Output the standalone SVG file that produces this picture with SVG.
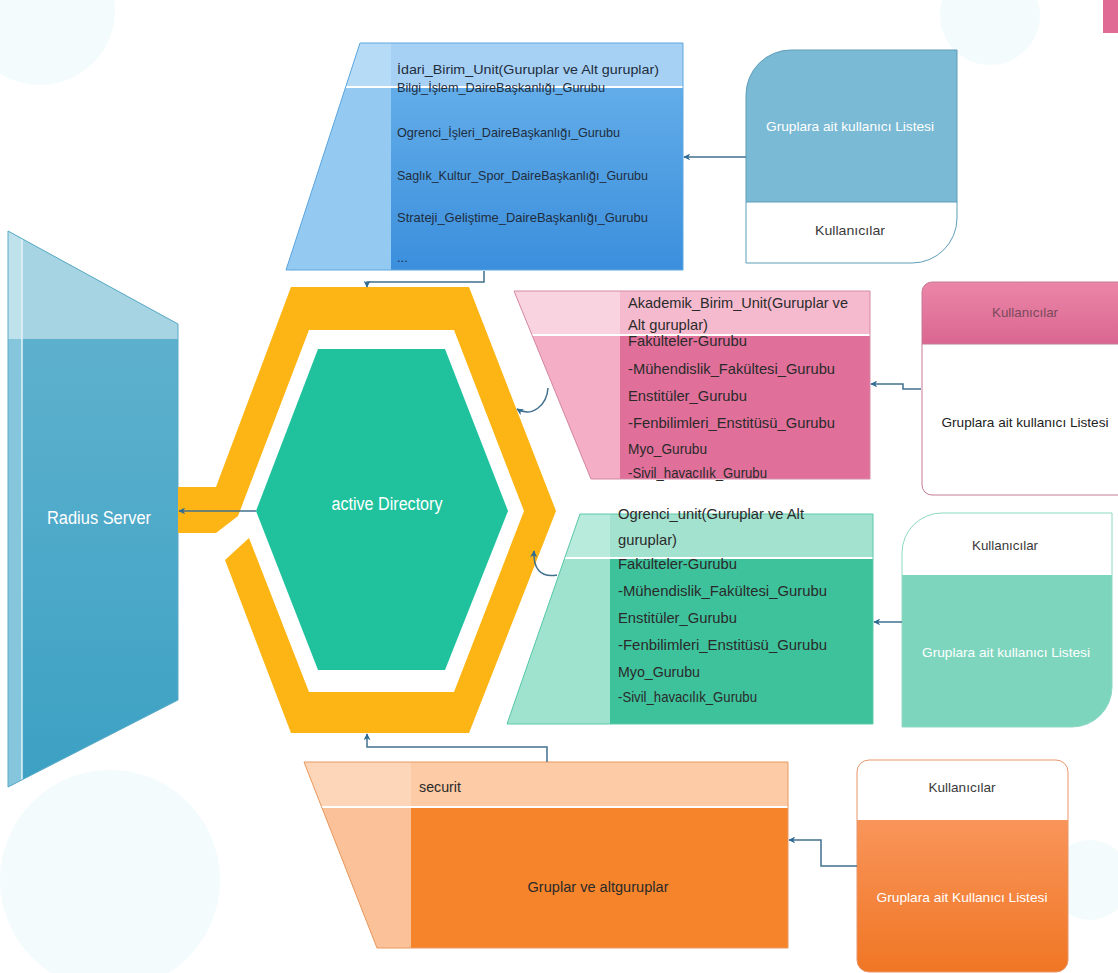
<svg xmlns="http://www.w3.org/2000/svg" width="1118" height="973" viewBox="0 0 1118 973">
<style>
text{font-family:"Liberation Sans",Arial,sans-serif}
.bt{font-size:13px;fill:#1f2d3d}
.lt{font-size:15px;fill:#2a2a2a}
.ku{font-size:13px;fill:#3a3a3a;text-anchor:middle}
.gw{font-size:13px;fill:#ffffff;text-anchor:middle}
.conn{fill:none;stroke:#41708F;stroke-width:1.5}
</style>
<defs>
<marker id="ah" viewBox="0 0 10 10" refX="9" refY="5" markerWidth="7" markerHeight="7" orient="auto-start-reverse" markerUnits="userSpaceOnUse">
<path d="M0,0 L10,5 L0,10 L3,5 Z" fill="#2F6B93"/>
</marker>
<linearGradient id="gBlue" x1="0" y1="0" x2="0" y2="1"><stop offset="0" stop-color="#6CB4EC"/><stop offset="1" stop-color="#3A8EDC"/></linearGradient>
<linearGradient id="gRad" x1="0" y1="0" x2="0" y2="1"><stop offset="0" stop-color="#66B5D0"/><stop offset="1" stop-color="#3BA0C3"/></linearGradient>
<linearGradient id="gPinkH" x1="0" y1="0" x2="0" y2="1"><stop offset="0" stop-color="#EB86A8"/><stop offset="1" stop-color="#DA6690"/></linearGradient>
<linearGradient id="gOr" x1="0" y1="0" x2="0" y2="1"><stop offset="0" stop-color="#F9955A"/><stop offset="1" stop-color="#F07624"/></linearGradient>
<clipPath id="cRad"><polygon points="8,231 178,324 178,700 8,787"/></clipPath>
<clipPath id="cBlue"><polygon points="360,43 683,43 683,270 286,270"/></clipPath>
<clipPath id="cPink"><polygon points="514,291 870,291 870,479 591,479"/></clipPath>
<clipPath id="cGreen"><polygon points="580,514 873,514 873,724 507,724"/></clipPath>
<clipPath id="cOr"><polygon points="304,762 788,762 788,948 377,948"/></clipPath>
</defs>

<g id="background" fill="#EAF8FC" opacity="0.55">
<circle cx="40" cy="10" r="75"/>
<circle cx="990" cy="15" r="50"/>
<circle cx="1090" cy="880" r="40"/>
<circle cx="110" cy="880" r="110"/>
</g>
<rect id="corner-tab" x="1103" y="0" width="15" height="33" fill="#E06C96"/>

<g id="radius-server">
<g clip-path="url(#cRad)">
<rect x="0" y="220" width="190" height="580" fill="url(#gRad)"/>
<rect x="0" y="220" width="190" height="119" fill="#A6D4E3"/>
<rect x="8" y="339" width="14" height="460" fill="#86C6DC"/>
<rect x="8" y="220" width="14" height="119" fill="#BFE1EC"/>
<line x1="22" y1="220" x2="22" y2="800" stroke="#E3F3F8" stroke-width="1.5"/>
</g>
<polygon points="8,231 178,324 178,700 8,787" fill="none" stroke="#5AAAC6" stroke-width="1"/>
<text x="99" y="524" font-size="18" fill="#ffffff" text-anchor="middle" textLength="104" lengthAdjust="spacingAndGlyphs">Radius Server</text>
</g>

<g id="ring">
<polygon points="178,487 216,487 291,287 469,287 556,511 469,733 291,733 225,560 249,538 309,692 454,692 524,511 454,330 309,330 238,516 216,533 178,533" fill="#FDB515"/>
</g>

<g id="active-directory">
<polygon points="318,349 445,349 508,511 445,670 318,670 256,511" fill="#20C29E"/>
<text x="387" y="510" font-size="18" fill="#ffffff" text-anchor="middle" textLength="111" lengthAdjust="spacingAndGlyphs">active Directory</text>
</g>

<g id="idari-birim">
<g clip-path="url(#cBlue)">
<rect x="280" y="40" width="410" height="235" fill="url(#gBlue)"/>
<rect x="280" y="40" width="410" height="47" fill="#A6D1F4"/>
<rect x="280" y="87" width="111" height="190" fill="#94CAF1"/>
<rect x="280" y="40" width="111" height="47" fill="#B6DBF7"/>
<line x1="280" y1="87" x2="690" y2="87" stroke="#FFFFFF" stroke-width="2"/>
</g>
<polygon points="360,43 683,43 683,270 286,270" fill="none" stroke="#5FA8E0" stroke-width="1"/>
<text class="bt" x="397" y="74" textLength="262" lengthAdjust="spacingAndGlyphs">İdari_Birim_Unit(Guruplar ve Alt guruplar)</text>
<text class="bt" x="397" y="92" textLength="208" lengthAdjust="spacingAndGlyphs">Bilgi_İşlem_DaireBaşkanlığı_Gurubu</text>
<text class="bt" x="397" y="137" textLength="223" lengthAdjust="spacingAndGlyphs">Ogrenci_İşleri_DaireBaşkanlığı_Gurubu</text>
<text class="bt" x="397" y="180" textLength="251" lengthAdjust="spacingAndGlyphs">Saglık_Kultur_Spor_DaireBaşkanlığı_Gurubu</text>
<text class="bt" x="397" y="222" textLength="251" lengthAdjust="spacingAndGlyphs">Strateji_Geliştime_DaireBaşkanlığı_Gurubu</text>
<text class="bt" x="397" y="262">...</text>
</g>

<g id="blue-users">
<path d="M791,50 H957 V202 H746 V95 A45,45 0 0 1 791,50 Z" fill="#7BBAD4"/>
<path d="M746,202 H957 V218 A45,45 0 0 1 912,263 H746 Z" fill="#FFFFFF"/>
<path d="M791,50 H957 V218 A45,45 0 0 1 912,263 H746 V95 A45,45 0 0 1 791,50 Z" fill="none" stroke="#5F9DB8" stroke-width="1"/>
<line x1="746" y1="202" x2="957" y2="202" stroke="#5F9DB8" stroke-width="1"/>
<text class="gw" x="850" y="131" textLength="168" lengthAdjust="spacingAndGlyphs">Gruplara ait kullanıcı Listesi</text>
<text class="ku" x="850" y="235" textLength="70" lengthAdjust="spacingAndGlyphs">Kullanıcılar</text>
</g>

<g id="akademik-birim">
<g clip-path="url(#cPink)">
<rect x="505" y="285" width="370" height="200" fill="#E0709A"/>
<rect x="505" y="285" width="370" height="50" fill="#F6BACE"/>
<rect x="505" y="335" width="115" height="150" fill="#F4AEC6"/>
<rect x="505" y="285" width="115" height="50" fill="#FAD3E0"/>
<line x1="505" y1="335" x2="875" y2="335" stroke="#FFFFFF" stroke-width="2"/>
</g>
<polygon points="514,291 870,291 870,479 591,479" fill="none" stroke="#D48AA6" stroke-width="1"/>
<text class="lt" x="628" y="308" textLength="220" lengthAdjust="spacingAndGlyphs">Akademik_Birim_Unit(Guruplar ve</text>
<text class="lt" x="628" y="330" textLength="80" lengthAdjust="spacingAndGlyphs">Alt guruplar)</text>
<text class="lt" x="628" y="346" textLength="119" lengthAdjust="spacingAndGlyphs">Fakülteler-Gurubu</text>
<text class="lt" x="628" y="374" textLength="207" lengthAdjust="spacingAndGlyphs">-Mühendislik_Fakültesi_Gurubu</text>
<text class="lt" x="628" y="401" textLength="119" lengthAdjust="spacingAndGlyphs">Enstitüler_Gurubu</text>
<text class="lt" x="628" y="428" textLength="207" lengthAdjust="spacingAndGlyphs">-Fenbilimleri_Enstitüsü_Gurubu</text>
<text class="lt" x="628" y="454" textLength="79" lengthAdjust="spacingAndGlyphs">Myo_Gurubu</text>
<text class="lt" x="628" y="478" textLength="139" lengthAdjust="spacingAndGlyphs">-Sivil_havacılık_Gurubu</text>
</g>

<g id="pink-users">
<path d="M932,282 H1125 V344 H922 V292 A10,10 0 0 1 932,282 Z" fill="url(#gPinkH)"/>
<path d="M922,344 H1125 V495 H932 A10,10 0 0 1 922,485 Z" fill="#FFFFFF"/>
<path d="M1125,282 H932 A10,10 0 0 0 922,292 V485 A10,10 0 0 0 932,495 H1125" fill="none" stroke="#C47A96" stroke-width="1"/>
<line x1="922" y1="344" x2="1125" y2="344" stroke="#C47A96" stroke-width="1"/>
<text class="ku" x="1025" y="317" style="fill:#7A4A5C" textLength="66" lengthAdjust="spacingAndGlyphs">Kullanıcılar</text>
<text class="ku" x="1025" y="427" style="fill:#222" textLength="167" lengthAdjust="spacingAndGlyphs">Gruplara ait kullanıcı Listesi</text>
</g>

<g id="ogrenci-unit">
<g clip-path="url(#cGreen)">
<rect x="500" y="510" width="380" height="220" fill="#3EC29C"/>
<rect x="500" y="510" width="380" height="48" fill="#A3E2CF"/>
<rect x="500" y="558" width="110" height="170" fill="#9FE3CF"/>
<rect x="500" y="510" width="110" height="48" fill="#B8EBDC"/>
<line x1="500" y1="558" x2="880" y2="558" stroke="#FFFFFF" stroke-width="2"/>
</g>
<polygon points="580,514 873,514 873,724 507,724" fill="none" stroke="#5CC9AA" stroke-width="1"/>
<text class="lt" x="618" y="519" textLength="186" lengthAdjust="spacingAndGlyphs">Ogrenci_unit(Guruplar ve Alt</text>
<text class="lt" x="618" y="545" textLength="59" lengthAdjust="spacingAndGlyphs">guruplar)</text>
<text class="lt" x="618" y="569" textLength="119" lengthAdjust="spacingAndGlyphs">Fakülteler-Gurubu</text>
<text class="lt" x="618" y="596" textLength="209" lengthAdjust="spacingAndGlyphs">-Mühendislik_Fakültesi_Gurubu</text>
<text class="lt" x="618" y="623" textLength="119" lengthAdjust="spacingAndGlyphs">Enstitüler_Gurubu</text>
<text class="lt" x="618" y="650" textLength="209" lengthAdjust="spacingAndGlyphs">-Fenbilimleri_Enstitüsü_Gurubu</text>
<text class="lt" x="618" y="677" textLength="82" lengthAdjust="spacingAndGlyphs">Myo_Gurubu</text>
<text class="lt" x="618" y="702" textLength="139" lengthAdjust="spacingAndGlyphs">-Sivil_havacılık_Gurubu</text>
</g>

<g id="green-users">
<path d="M942,513 H1112 V575 H902 V553 A40,40 0 0 1 942,513 Z" fill="#FFFFFF"/>
<path d="M902,575 H1112 V687 A40,40 0 0 1 1072,727 H902 Z" fill="#7ED5BD"/>
<path d="M942,513 H1112 V687 A40,40 0 0 1 1072,727 H902 V553 A40,40 0 0 1 942,513 Z" fill="none" stroke="#8ED8C3" stroke-width="1"/>
<text class="ku" x="1005" y="550" textLength="66" lengthAdjust="spacingAndGlyphs">Kullanıcılar</text>
<text class="gw" x="1006" y="657" textLength="168" lengthAdjust="spacingAndGlyphs">Gruplara ait kullanıcı Listesi</text>
</g>

<g id="securit">
<g clip-path="url(#cOr)">
<rect x="300" y="755" width="495" height="200" fill="#F5842A"/>
<rect x="300" y="755" width="495" height="52" fill="#FDCBA5"/>
<rect x="300" y="807" width="111" height="150" fill="#FBC29A"/>
<rect x="300" y="755" width="111" height="52" fill="#FDD6B9"/>
<line x1="300" y1="807" x2="795" y2="807" stroke="#FFFFFF" stroke-width="2"/>
</g>
<polygon points="304,762 788,762 788,948 377,948" fill="none" stroke="#E89A60" stroke-width="1"/>
<text class="lt" x="419" y="792" textLength="42" lengthAdjust="spacingAndGlyphs">securit</text>
<text class="lt" x="598" y="892" text-anchor="middle" textLength="141" lengthAdjust="spacingAndGlyphs">Gruplar ve altguruplar</text>
</g>

<g id="orange-users">
<path d="M869,760 H1056 A12,12 0 0 1 1068,772 V820 H857 V772 A12,12 0 0 1 869,760 Z" fill="#FFFFFF"/>
<path d="M857,820 H1068 V960 A12,12 0 0 1 1056,972 H869 A12,12 0 0 1 857,960 Z" fill="url(#gOr)"/>
<rect x="857" y="760" width="211" height="212" rx="12" fill="none" stroke="#E8956A" stroke-width="1"/>
<text class="ku" x="962" y="792" textLength="67" lengthAdjust="spacingAndGlyphs">Kullanıcılar</text>
<text class="gw" x="962" y="902" textLength="171" lengthAdjust="spacingAndGlyphs">Gruplara ait Kullanıcı Listesi</text>
</g>

<g id="connectors">
<line class="conn" x1="256" y1="511" x2="179" y2="511" marker-end="url(#ah)"/>
<path class="conn" d="M746,157 H684" marker-end="url(#ah)"/>
<path class="conn" d="M484,271 V282 H367 V287" marker-end="url(#ah)"/>
<path class="conn" d="M921,389 H903 V384 H871" marker-end="url(#ah)"/>
<path class="conn" d="M548,388 C547,405 532,418 517,409" marker-end="url(#ah)"/>
<path class="conn" d="M902,622 H874" marker-end="url(#ah)"/>
<path class="conn" d="M557,575 C540,578 533,568 534,551" marker-end="url(#ah)"/>
<path class="conn" d="M547,762 V747 H367 V734" marker-end="url(#ah)"/>
<path class="conn" d="M857,866 H821 V840 H789" marker-end="url(#ah)"/>
</g>
</svg>
